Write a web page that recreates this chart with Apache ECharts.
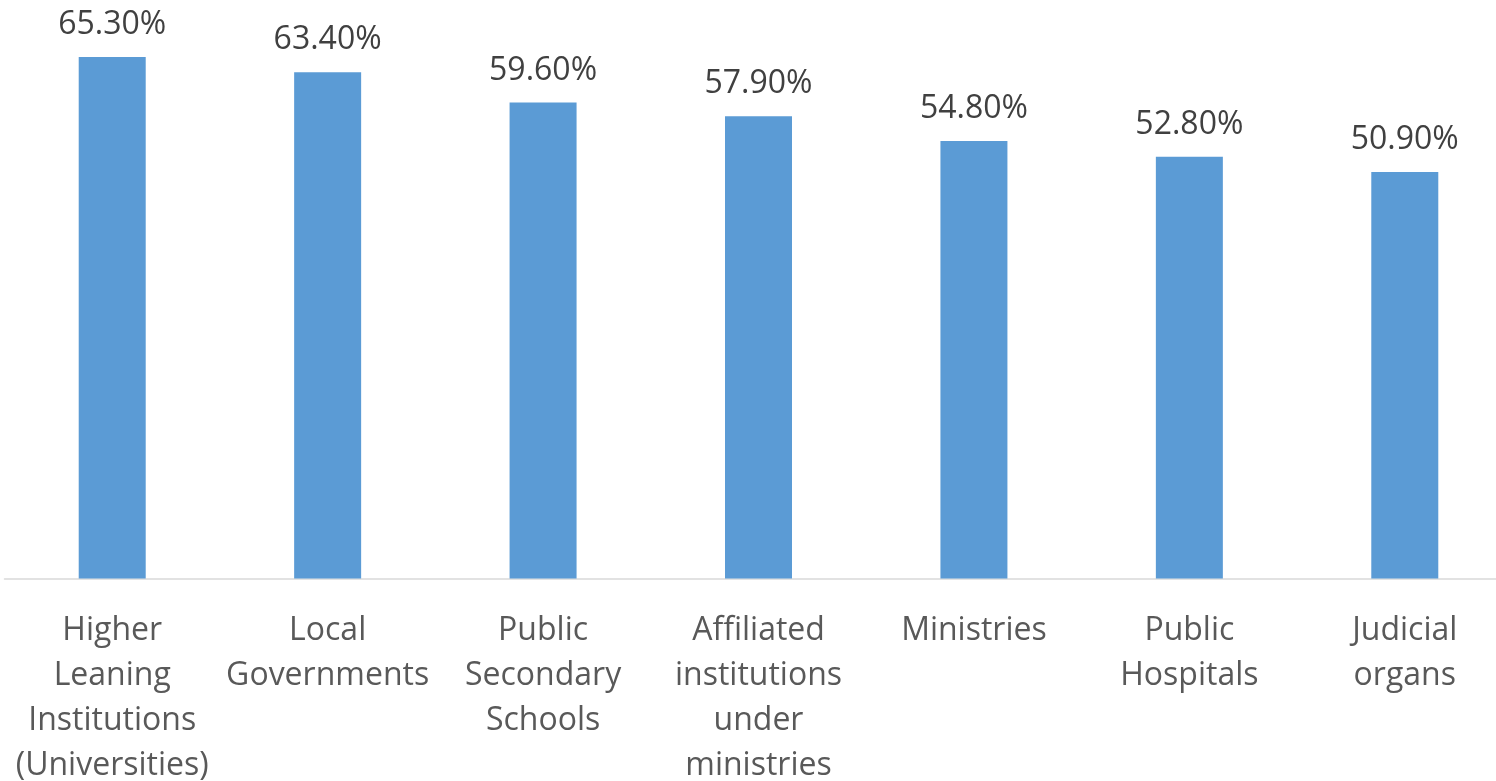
<!DOCTYPE html>
<html>
<head>
<meta charset="utf-8">
<script src="https://cdn.jsdelivr.net/npm/echarts@6/dist/echarts.min.js"></script>
<style>
  html, body { margin: 0; padding: 0; background: #ffffff; }
  #chart { width: 1496px; height: 781px; }
</style>
</head>
<body>
<div id="chart"></div>
<script>
// Institution types (line breaks as shown under the axis)
const categories = [
  'Higher\nLeaning\nInstitutions\n(Universities)',
  'Local\nGovernments',
  'Public\nSecondary\nSchools',
  'Affiliated\ninstitutions\nunder\nministries',
  'Ministries',
  'Public\nHospitals',
  'Judicial\norgans'
];
// Share in percent
const values = [65.3, 63.4, 59.6, 57.9, 54.8, 52.8, 50.9];

const fontFamily = '"Open Sans", "Noto Sans", sans-serif';
const chart = echarts.init(document.getElementById('chart'));
chart.setOption({
  animation: false,
  grid: {
    left: 4.5, width: 1508, top: 19.5, bottom: 202.5,
    containLabel: false, outerBoundsMode: 'none'
  },
  xAxis: {
    type: 'category',
    data: categories,
    axisLine: { show: true, lineStyle: { color: '#d9d9d9', width: 1.5 } },
    axisTick: { show: false },
    axisLabel: {
      interval: 0,
      color: '#595959',
      fontFamily: fontFamily,
      fontSize: 32,
      lineHeight: 45,
      margin: 30,
      verticalAlign: 'top'
    }
  },
  yAxis: {
    type: 'value',
    min: 0,
    max: 70,
    show: false,
    splitLine: { show: false }
  },
  series: [{
    type: 'bar',
    data: values,
    barWidth: 67,
    itemStyle: { color: '#5b9bd5' },
    label: {
      show: true,
      position: 'top',
      distance: 16,
      color: '#404040',
      fontFamily: fontFamily,
      fontSize: 32,
      formatter: p => p.value.toFixed(2) + '%'
    }
  }]
});
</script>
</body>
</html>
